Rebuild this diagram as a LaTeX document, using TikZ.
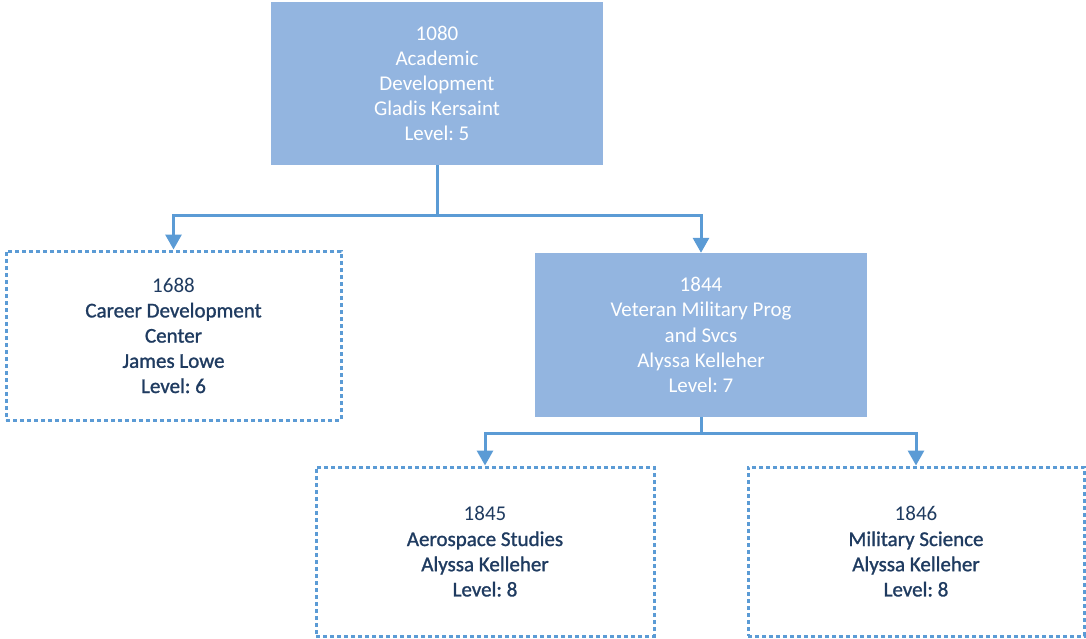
\documentclass[tikz,border=0pt]{standalone}
\usepackage{fontspec}
\setmainfont{Carlito}
\newfontfamily\semib[FakeBold=1.2]{Carlito}
\frenchspacing
\usetikzlibrary{arrows.meta}
\definecolor{boxfill}{HTML}{93B5E0}
\definecolor{linecol}{HTML}{5B9BD5}
\definecolor{navy}{HTML}{1F3B60}
\newcommand{\semibtext}[1]{{\semib #1}}
\tikzset{
  filledbox/.style={rectangle, fill=boxfill, draw=none, inner sep=0pt, align=center, text=white, font=\fontsize{21}{25.2}\selectfont},
  dashbox/.style={rectangle, draw=linecol, line width=3pt, dash pattern=on 4pt off 3pt, inner sep=0pt, align=center, text=navy, font=\fontsize{21}{25.2}\selectfont},
  conn/.style={draw=linecol, line width=3pt, -{Triangle[width=16pt,length=15pt]}},
  plain/.style={draw=linecol, line width=3pt}
}
\begin{document}
\begin{tikzpicture}[x=1pt,y=-1pt]
\useasboundingbox (0,0) rectangle (1086,638);
\node[filledbox, minimum width=332pt, minimum height=163pt] (top) at (437,83.5)
  {1080\\Academic\\Development\\Gladis Kersaint\\Level: 5};
\node[dashbox, minimum width=335pt, minimum height=169pt] (cdc) at (173.5,335.5)
  {1688\\\semibtext{Career Development}\\\semibtext{Center}\\\semibtext{James Lowe}\\\semibtext{Level: 6}};
\node[filledbox, minimum width=332pt, minimum height=164pt] (vet) at (701,335)
  {1844\\Veteran Military Prog\\and Svcs\\Alyssa Kelleher\\Level: 7};
\node[dashbox, minimum width=338pt, minimum height=169pt] (aero) at (485,551.5)
  {1845\\\semibtext{Aerospace Studies}\\\semibtext{Alyssa Kelleher}\\\semibtext{Level: 8}};
\node[dashbox, minimum width=336pt, minimum height=169pt] (mil) at (916,551.5)
  {1846\\\semibtext{Military Science}\\\semibtext{Alyssa Kelleher}\\\semibtext{Level: 8}};
\coordinate (j1) at (437,215);
\coordinate (j2) at (701,433);
\draw[plain] (top.south) -- (j1);
\draw[conn] (j1) -| (cdc.north);
\draw[conn] (j1) -| (vet.north);
\draw[plain] (vet.south) -- (j2);
\draw[conn] (j2) -| (aero.north);
\draw[conn] (j2) -| (mil.north);
\end{tikzpicture}
\end{document}
